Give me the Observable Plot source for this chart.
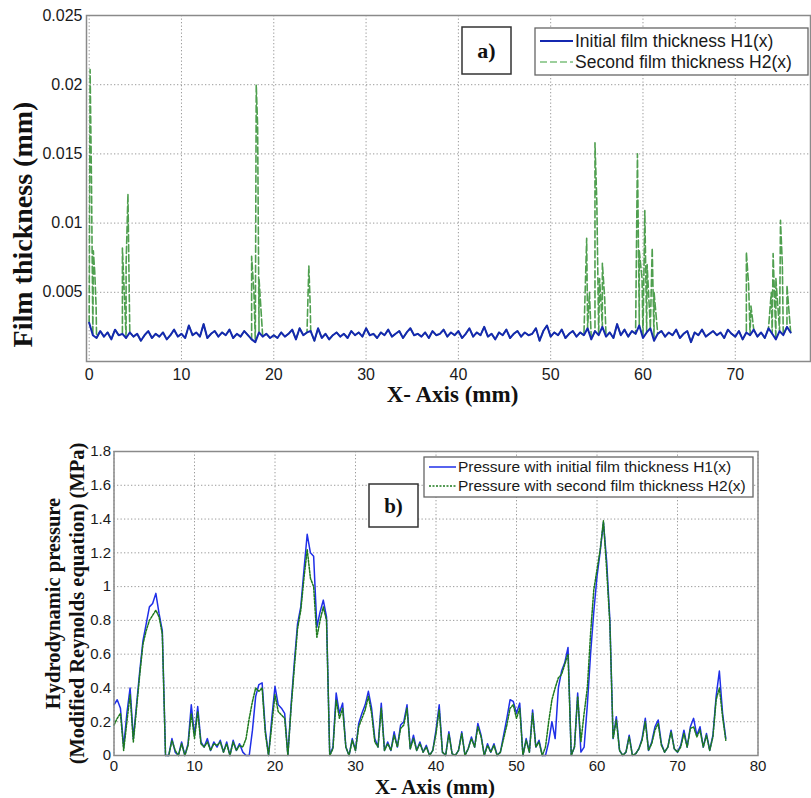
<!DOCTYPE html>
<html><head><meta charset="utf-8">
<script src="https://cdn.jsdelivr.net/npm/d3@7"></script>
<script src="https://cdn.jsdelivr.net/npm/@observablehq/plot@0.6"></script>
<style>
body{margin:0;background:#fff}
#chart{width:811px;height:798px;background:#fff}
#chart svg{display:block}
</style>
</head><body><div id="chart"></div>
<script>
// ---------- Data ----------
const xStep = 0.4; // sampling step of the series along X (mm)

// Panel a) initial film thickness H1(x), mm, x = 0, 0.4, ..., 76
const h1Values = [
 .0028,.0019,.0017,.0022,.0018,.0021,.0016,.0023,.0019,.0020,
 .0017,.0021,.0018,.0020,.0015,.0019,.0022,.0017,.0020,.0018,
 .0021,.0016,.0019,.0023,.0018,.0020,.0017,.0026,.0019,.0021,
 .0018,.0027,.0017,.0020,.0022,.0018,.0021,.0019,.0023,.0017,
 .0020,.0018,.0022,.0019,.0016,.0014,.0021,.0018,.0020,.0017,
 .0019,.0017,.0021,.0018,.0020,.0023,.0016,.0024,.0019,.0021,
 .0022,.0015,.0024,.0017,.0020,.0016,.0019,.0021,.0018,.0020,
 .0017,.0022,.0019,.0021,.0018,.0024,.0019,.0020,.0017,.0021,
 .0019,.0023,.0018,.0020,.0022,.0017,.0021,.0024,.0019,.0020,
 .0018,.0021,.0017,.0022,.0019,.0020,.0023,.0018,.0021,.0019,
 .0022,.0017,.0020,.0024,.0018,.0021,.0019,.0025,.0018,.0020,
 .0016,.0021,.0019,.0023,.0017,.0020,.0022,.0018,.0021,.0019,
 .0020,.0024,.0015,.0022,.0026,.0018,.0021,.0019,.0023,.0017,
 .0020,.0022,.0018,.0021,.0019,.0024,.0016,.0022,.0019,.0025,
 .0018,.0021,.0017,.0027,.0019,.0023,.0018,.0022,.0020,.0026,
 .0017,.0021,.0024,.0015,.0020,.0022,.0018,.0021,.0019,.0023,
 .0017,.0020,.0022,.0014,.0021,.0019,.0023,.0018,.0020,.0022,
 .0019,.0021,.0017,.0023,.0020,.0018,.0022,.0016,.0021,.0019,
 .0023,.0018,.0021,.0017,.0024,.0020,.0016,.0022,.0019,.0025,
 .0021
];

// Panel a) second film thickness H2(x): follows H1(x) except at these peaks [x mm, thickness mm]
const h2Peaks = [
 [0.1,.0211],[0.25,.0130],[0.45,.0080],[0.6,.0065],[0.75,.0040],
 [3.6,.0082],[3.8,.0050],[4.0,.0070],[4.2,.0121],[4.35,.0045],
 [17.6,.0076],[17.85,.0050],[18.1,.0200],[18.25,.0170],[18.4,.0060],
 [23.8,.0069],[23.95,.0040],
 [53.9,.0089],[54.2,.0050],[54.8,.0158],[55.0,.0115],[55.3,.0060],[55.6,.0071],[55.85,.0046],
 [59.4,.0150],[59.6,.0080],[59.9,.0060],[60.2,.0109],[60.45,.0070],[61.0,.0082],[61.2,.0050],
 [71.2,.0079],[71.45,.0055],[71.7,.0040],
 [73.9,.0050],[74.1,.0078],[74.4,.0060],[74.9,.0102],[75.1,.0070],[75.6,.0055]
];

// Panel b) hydrodynamic pressure (MPa), x = 0, 0.4, ..., 76
const p1Values = [
 0.30,0.33,0.28,0.05,0.25,0.40,0.10,0.30,0.50,0.68,
 0.78,0.88,0.90,0.96,0.84,0.74,0.00,0.00,0.10,0.02,
 0.00,0.08,0.00,0.07,0.30,0.12,0.29,0.08,0.05,0.10,
 0.03,0.08,0.05,0.09,0.02,0.08,0.00,0.09,0.03,0.07,
 0.02,0.00,0.00,0.15,0.35,0.42,0.43,0.15,0.00,0.22,
 0.41,0.30,0.28,0.25,0.00,0.30,0.55,0.78,0.88,1.10,
 1.31,1.20,1.18,0.76,0.85,0.92,0.82,0.00,0.05,0.37,
 0.25,0.31,0.05,0.00,0.10,0.03,0.19,0.25,0.30,0.38,
 0.28,0.10,0.05,0.31,0.03,0.08,0.03,0.14,0.05,0.18,
 0.20,0.30,0.04,0.12,0.03,0.08,0.02,0.06,0.00,0.03,
 0.15,0.30,0.02,0.00,0.14,0.01,0.00,0.03,0.14,0.00,
 0.04,0.11,0.05,0.19,0.12,0.00,0.07,0.02,0.07,0.00,
 0.02,0.12,0.22,0.33,0.32,0.25,0.31,0.00,0.10,0.02,
 0.27,0.05,0.09,0.00,0.00,0.08,0.20,0.10,0.40,0.50,
 0.55,0.64,0.00,0.05,0.37,0.02,0.05,0.30,0.60,0.85,
 1.06,1.21,1.38,1.15,0.80,0.10,0.23,0.03,0.00,0.02,
 0.12,0.00,0.01,0.04,0.10,0.22,0.03,0.08,0.17,0.21,
 0.07,0.02,0.05,0.15,0.04,0.02,0.06,0.15,0.05,0.17,
 0.22,0.12,0.17,0.05,0.13,0.03,0.12,0.35,0.50,0.25,
 0.10
];
const p2Values = [
 0.18,0.22,0.25,0.03,0.20,0.36,0.08,0.28,0.48,0.66,
 0.74,0.80,0.83,0.86,0.82,0.72,0.00,0.00,0.09,0.03,
 0.00,0.07,0.00,0.06,0.25,0.10,0.26,0.07,0.05,0.08,
 0.03,0.07,0.06,0.08,0.02,0.07,0.00,0.08,0.03,0.06,
 0.05,0.10,0.22,0.32,0.40,0.38,0.40,0.13,0.00,0.18,
 0.36,0.26,0.24,0.22,0.00,0.28,0.52,0.75,0.86,1.05,
 1.22,1.05,1.00,0.70,0.80,0.88,0.80,0.00,0.04,0.33,
 0.22,0.28,0.05,0.00,0.09,0.03,0.17,0.22,0.27,0.35,
 0.25,0.08,0.05,0.28,0.03,0.07,0.03,0.12,0.05,0.16,
 0.18,0.28,0.04,0.10,0.03,0.07,0.02,0.05,0.00,0.03,
 0.13,0.27,0.02,0.00,0.13,0.01,0.00,0.03,0.13,0.00,
 0.04,0.10,0.05,0.17,0.11,0.00,0.06,0.02,0.06,0.00,
 0.02,0.10,0.18,0.28,0.30,0.22,0.28,0.00,0.09,0.02,
 0.25,0.05,0.08,0.00,0.05,0.20,0.33,0.40,0.46,0.48,
 0.54,0.60,0.00,0.05,0.35,0.08,0.25,0.40,0.72,0.98,
 1.10,1.22,1.39,1.10,0.78,0.10,0.21,0.03,0.00,0.02,
 0.11,0.00,0.01,0.04,0.09,0.20,0.03,0.07,0.15,0.19,
 0.06,0.02,0.05,0.14,0.04,0.02,0.05,0.13,0.05,0.16,
 0.17,0.11,0.15,0.05,0.12,0.03,0.11,0.33,0.40,0.23,
 0.09
];

// Axes ticks and labels
const topXTicks = [0,10,20,30,40,50,60,70];
const topYTicks = [0.005,0.01,0.015,0.02,0.025];
const botXTicks = [0,10,20,30,40,50,60,70,80];
const botYTicks = [0,0.2,0.4,0.6,0.8,1,1.2,1.4,1.6,1.8];
const topXLabel = "X- Axis (mm)";
const topYLabel = "Film thickness (mm)";
const botXLabel = "X- Axis (mm)";
const botYLabel = "Hydrodynamic pressure\n(Modified Reynolds equation) (MPa)";
const topSeries = ["Initial film thickness H1(x)", "Second film thickness H2(x)"];
const botSeries = ["Pressure with initial film thickness H1(x)", "Pressure with second film thickness H2(x)"];
const topPanelTag = "a)";
const botPanelTag = "b)";

// ---------- Tables ----------
const h1Data = h1Values.map((v, i) => ({x: +(i * xStep).toFixed(2), y: v}));
const h2Data = h1Data.concat(h2Peaks.map(([x, y]) => ({x, y}))).sort((a, b) => a.x - b.x);
const p1Data = p1Values.map((v, i) => ({x: +(i * xStep).toFixed(2), y: v}));
const p2Data = p2Values.map((v, i) => ({x: +(i * xStep).toFixed(2), y: v}));

// ---------- Styles ----------
const BLUE_TOP = "#1428b0", GREEN_TOP = "#4f9f4f";
const BLUE = "#1f2fe8", GREEN = "#1d7a1d";
const GRID = {stroke: "#9a9a9a", strokeDasharray: "1.3,2.2", strokeWidth: 1};
const SANS = "'Liberation Sans', Arial, sans-serif";
const SERIF = "'Liberation Serif', 'Times New Roman', serif";
const fmt = d => String(d);

// ---------- Panel a ----------
const topPlot = Plot.plot({
  width: 811, height: 400,
  marginLeft: 86, marginRight: 1, marginTop: 15, marginBottom: 39,
  style: {fontFamily: SANS, fontSize: "16px", color: "#1a1a1a", background: "#fff", overflow: "visible"},
  x: {domain: [-0.29, 78.15], ticks: topXTicks, tickFormat: fmt, tickSize: 0, tickPadding: 7, label: null},
  y: {domain: [0, 0.025], ticks: topYTicks, tickFormat: fmt, tickSize: 0, tickPadding: 4, label: null},
  marks: [
    Plot.ruleX(topXTicks, GRID),
    Plot.ruleY(topYTicks, GRID),
    Plot.line(h2Data, {x: "x", y: "y", stroke: GREEN_TOP, strokeWidth: 1.6, strokeDasharray: "7,3"}),
    Plot.line(h1Data, {x: "x", y: "y", stroke: BLUE_TOP, strokeWidth: 2}),
    Plot.frame({stroke: "#8a8a8a", strokeWidth: 1.5}),
    Plot.text([topXLabel], {text: d => d, frameAnchor: "bottom", textAnchor: "middle", lineAnchor: "middle", dx: 4, dy: 33, fontFamily: SERIF, fontWeight: "bold", fontSize: 23, fill: "#111"}),
    Plot.text([topYLabel], {text: d => d, frameAnchor: "left", textAnchor: "middle", lineAnchor: "middle", dx: -63, dy: 36, rotate: -90, fontFamily: SERIF, fontWeight: "bold", fontSize: 28, fill: "#111"})
  ]
});

// ---------- Panel b ----------
const botPlot = Plot.plot({
  width: 811, height: 398,
  marginLeft: 113.5, marginRight: 53.5, marginTop: 51, marginBottom: 43,
  style: {fontFamily: SANS, fontSize: "15px", color: "#1a1a1a", background: "#fff", overflow: "visible"},
  x: {domain: [0, 80], ticks: botXTicks, tickFormat: fmt, tickSize: 0, tickPadding: 5, label: null},
  y: {domain: [0, 1.8], ticks: botYTicks, tickFormat: fmt, tickSize: 0, tickPadding: 3, label: null},
  marks: [
    Plot.ruleX(botXTicks, GRID),
    Plot.ruleY(botYTicks, GRID),
    Plot.line(p1Data, {x: "x", y: "y", stroke: BLUE, strokeWidth: 1.5}),
    Plot.line(p2Data, {x: "x", y: "y", stroke: GREEN, strokeWidth: 1.5, strokeDasharray: "2,1.5"}),
    Plot.frame({stroke: "#8a8a8a", strokeWidth: 1.5}),
    Plot.text([botXLabel], {text: d => d, frameAnchor: "bottom", textAnchor: "middle", lineAnchor: "middle", dx: -1, dy: 32, fontFamily: SERIF, fontWeight: "bold", fontSize: 21, fill: "#111"}),
    Plot.text([botYLabel], {text: d => d, frameAnchor: "left", textAnchor: "middle", lineAnchor: "middle", dx: -50, dy: 0, rotate: -90, lineHeight: 1.2, fontFamily: SERIF, fontWeight: "bold", fontSize: 20.5, fill: "#111"})
  ]
});

// ---------- Legends and panel tags (pixel overlays) ----------
function addTag(svg, tag, x, y, w, h, size) {
  const g = d3.select(svg).append("g");
  g.append("rect").attr("x", x).attr("y", y).attr("width", w).attr("height", h)
    .attr("fill", "#fff").attr("stroke", "#333").attr("stroke-width", 1.5);
  g.append("text").attr("x", x + w / 2).attr("y", y + h / 2).attr("dy", "0.35em")
    .attr("text-anchor", "middle").attr("font-family", SERIF).attr("font-weight", "bold")
    .attr("font-size", size).attr("fill", "#111").text(tag);
}
function addLegend(svg, names, styles, x, y, w, h, rowY, lineX0, lineX1, textX, size) {
  const g = d3.select(svg).append("g");
  g.append("rect").attr("x", x).attr("y", y).attr("width", w).attr("height", h)
    .attr("fill", "#fff").attr("stroke", "#666").attr("stroke-width", 1.3);
  names.forEach((name, i) => {
    g.append("line").attr("x1", lineX0).attr("x2", lineX1).attr("y1", rowY[i]).attr("y2", rowY[i])
      .attr("stroke", styles[i].stroke).attr("stroke-width", styles[i].width)
      .attr("stroke-dasharray", styles[i].dash || null);
    g.append("text").attr("x", textX).attr("y", rowY[i]).attr("dy", "0.35em")
      .attr("text-anchor", "start")
      .attr("font-family", SANS).attr("font-size", size).attr("fill", "#1a1a1a").text(name);
  });
}
addTag(topPlot, topPanelTag, 462, 27, 49, 47, 22);
addLegend(topPlot, topSeries,
  [{stroke: BLUE_TOP, width: 2}, {stroke: "#7cc07c", width: 1.6, dash: "7,3"}],
  535, 28, 273, 47, [41, 62], 540, 573, 575, 17.5);
addTag(botPlot, botPanelTag, 369, 84, 49, 43, 21);
addLegend(botPlot, botSeries,
  [{stroke: BLUE, width: 1.5}, {stroke: GREEN, width: 1.5, dash: "2,1.5"}],
  424, 57, 329, 40, [67, 86], 429, 456, 458, 15.5);

document.getElementById("chart").append(topPlot, botPlot);
</script>
</body></html>
